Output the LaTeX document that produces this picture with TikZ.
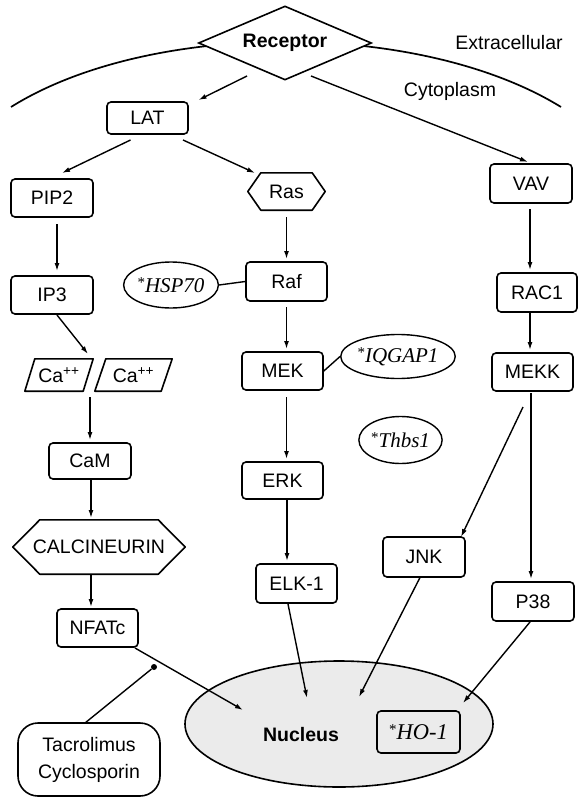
\documentclass[tikz,border=0pt]{standalone}
\usepackage{fontspec}
\setmainfont{Liberation Sans}
\newfontfamily\tms{Liberation Serif}
\newcommand{\gstar}{\raisebox{5pt}{\fontsize{15}{15}\selectfont *}}
\usetikzlibrary{shapes.geometric,arrows.meta,calc}
\begin{document}
\begin{tikzpicture}[x=1pt,y=-1pt,
  every node/.style={inner sep=0pt, font=\fontsize{19.5}{23}\selectfont},
  sz/.style 2 args={minimum width=#1pt, minimum height=#2pt},
  bx/.style={draw, line width=1.6pt, rounded corners=4pt, fill=white},
  shp/.style={draw, line width=1.6pt, line join=round},
  gene/.style={ellipse, draw, line width=1.4pt, fill=white, font=\tms\fontsize{21}{24}\selectfont},
  arr/.style={line width=1.4pt, -{Latex[length=8pt,width=5pt]}},
  ln/.style={line width=1.4pt},
  bold/.style={font=\bfseries\fontsize{19.5}{23}\selectfont}]
\useasboundingbox (0,0) rectangle (581,797);

% membrane
\draw[line width=1.7pt] (11,107) .. controls (150,20) and (420,20) .. (561,107);
\node[diamond, draw, line width=1.6pt, fill=white, aspect=2.3, sz={173}{74}, bold] (receptor) at (285,43) {Receptor};
\node (extra) at (509,43) {Extracellular};
\node (cyto) at (450,91) {Cytoplasm};

% nodes
\node[bx, sz={81}{32}] (lat) at (147.5,118) {LAT};
\node[bx, sz={82}{38}] (pip2) at (52,198) {PIP2};
\node[sz={77}{37}] (ras) at (286.5,191.5) {Ras};
\draw[shp] (ras.west) -- ($(ras.north west)+(13,0)$) -- ($(ras.north east)+(-13,0)$) -- (ras.east) -- ($(ras.south east)+(-13,0)$) -- ($(ras.south west)+(13,0)$) -- cycle;
\node[bx, sz={82}{39}] (vav) at (531,183.5) {VAV};
\node[bx, sz={82}{38}] (ip3) at (52,295) {IP3};
\node[gene, sz={84}{46}] (hsp70) at (171,285) {\gstar\textit{HSP70}};
\node[bx, sz={81}{39}] (raf) at (286.5,281.5) {Raf};
\node[bx, sz={80}{39}] (rac1) at (537,292.5) {RAC1};
\node[sz={68}{32}] (ca1) at (59,375) {Ca\textsuperscript{++}};
\draw[shp] (ca1.south west) -- ($(ca1.north west)+(10,0)$) -- (ca1.north east) -- ($(ca1.south east)+(-10,0)$) -- cycle;
\node[sz={77}{32}] (ca2) at (133.5,375) {Ca\textsuperscript{++}};
\draw[shp] (ca2.south west) -- ($(ca2.north west)+(11,0)$) -- (ca2.north east) -- ($(ca2.south east)+(-11,0)$) -- cycle;
\node[bx, sz={81}{38}] (mek) at (282.5,371) {MEK};
\node[gene, sz={84}{44}] (iqgap) at (398,356.5) {\gstar\textit{IQGAP1}};
\node[bx, sz={81}{38}] (mekk) at (532.5,372) {MEKK};
\node[gene, sz={75}{47}] (thbs1) at (400.5,440) {\gstar\textit{Thbs1}};
\node[bx, sz={82}{36}] (cam) at (90,461) {CaM};
\node[bx, sz={81}{37}] (erk) at (282.5,480.5) {ERK};
\node[sz={172}{54}] (calc) at (99,547) {CALCINEURIN};
\draw[shp] (calc.west) -- ($(calc.north west)+(27,0)$) -- ($(calc.north east)+(-27,0)$) -- (calc.east) -- ($(calc.south east)+(-27,0)$) -- ($(calc.south west)+(27,0)$) -- cycle;
\node[bx, sz={82}{40}] (jnk) at (424,557) {JNK};
\node[bx, sz={81}{39}] (elk1) at (296.5,583.5) {ELK-1};
\node[bx, sz={82}{39}] (p38) at (533,601.5) {P38};
\node[bx, sz={81}{38}] (nfatc) at (97.5,628) {NFATc};
\node[ellipse, draw, line width=1.6pt, fill=black!8, sz={308}{126}] (nucleus) at (339,724) {};
\node[bold] (nuctext) at (301,735) {Nucleus};
\node[draw, line width=1.6pt, rounded corners=4pt, sz={83}{42}, font=\tms\fontsize{22.5}{26}\selectfont] (ho1) at (418.5,732) {\gstar\textit{HO-1}};
\node[draw, line width=1.6pt, rounded corners=20pt, fill=white, sz={142}{73}, align=center, font=\fontsize{19.5}{27}\selectfont] (tacro) at (89,759.5) {Tacrolimus\\Cyclosporin};
\node[circle, fill, minimum size=6pt] (dot) at (154,667) {};

% connectors
\draw[arr] ($(receptor)+(-38,33)$) -- ($(lat)+(51,-18)$);
\draw[arr] ($(receptor)+(26,33)$) -- ($(vav)+(-3,-21.5)$);
\draw[arr] ($(lat)+(-17,22)$) -- ($(pip2)+(10,-25)$);
\draw[arr] ($(lat)+(35.5,22)$) -- ($(ras)+(-31.5,-18.5)$);
\draw[arr] ($(pip2)+(5,26)$) -- ($(ip3)+(5,-24)$);
\draw[arr] ($(ip3)+(5,20)$) -- ($(ca1)+(29,-21)$);
\draw[arr] ($(ca1)+(31,22)$) -- ($(cam)+(0,-21)$);
\draw[arr] ($(ras)+(0,25.5)$) -- ($(raf)+(0,-22.5)$);
\draw[arr] ($(raf)+(0,25.5)$) -- ($(mek)+(4,-22)$);
\draw[arr] ($(mek)+(4,26)$) -- ($(erk)+(4,-21.5)$);
\draw[arr] ($(erk)+(4.5,19.5)$) -- ($(elk1)+(-9.5,-22.5)$);
\draw[arr] ($(vav)+(-1,25.5)$) -- ($(rac1)+(-7,-22.5)$);
\draw[arr] ($(rac1)+(-7,19.5)$) -- ($(mekk)+(-2.5,-22)$);
\draw[arr] ($(mekk)+(-9.5,35)$) -- ($(jnk)+(37,-20)$);
\draw[arr] ($(mekk)+(-1.5,21)$) -- ($(p38)+(-2,-22.5)$);
\draw[arr] ($(cam)+(1,19)$) -- ($(calc)+(-8,-29)$);
\draw[arr] ($(calc)+(-8,28)$) -- ($(nfatc)+(-6.5,-21)$);
\draw[arr] ($(nfatc)+(37.5,20)$) -- ($(nucleus)+(-96,-14)$);
\draw[arr] ($(elk1)+(-8.5,20.5)$) -- ($(nucleus)+(-32,-26)$);
\draw[arr] ($(jnk)+(-4,20.5)$) -- ($(nucleus)+(20,-27)$);
\draw[arr] ($(p38)+(-3,20.5)$) -- ($(nucleus)+(124,-21)$);
\draw[ln] ($(tacro)+(-4,-36.5)$) -- (dot);
\draw[ln] (hsp70.east) -- (raf.west);
\draw[ln] (mek.east) -- (iqgap.west);
\end{tikzpicture}
\end{document}
